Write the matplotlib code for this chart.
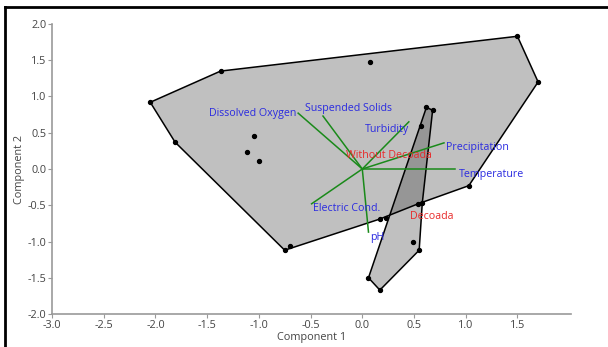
import numpy as np
import matplotlib.pyplot as plt
from matplotlib.lines import Line2D

plt.rcParams['font.family'] = ['Open Sans', 'DejaVu Sans']

# group "Without Decoada" - all scores, and hull vertices in drawing order
wd_x = [-2.05, -1.81, -1.37, 0.07, 1.50, 1.70, 1.03, 0.54, 0.17, -0.70, -0.75, -1.05, -1.11, -1.00]
wd_y = [0.92, 0.37, 1.35, 1.48, 1.83, 1.20, -0.23, -0.48, -0.69, -1.06, -1.12, 0.45, 0.24, 0.11]
wd_hull = [0, 2, 4, 5, 6, 7, 8, 10, 1]

# group "Decoada"
de_x = [0.62, 0.68, 0.57, 0.58, 0.23, 0.49, 0.55, 0.17, 0.06]
de_y = [0.85, 0.81, 0.59, -0.47, -0.68, -1.01, -1.12, -1.67, -1.50]
de_hull = [0, 1, 3, 6, 7, 8]

# loadings (biplot vectors)
var_names = ['Dissolved Oxygen', 'Suspended Solids', 'Turbidity', 'Precipitation',
             'Temperature', 'Electric Cond.', 'pH']
load_x = [-0.62, -0.38, 0.45, 0.79, 0.90, -0.49, 0.06]
load_y = [0.77, 0.73, 0.65, 0.36, 0.00, -0.48, -0.87]
label_x = [-0.64, -0.13, 0.24, 0.81, 0.93, -0.15, 0.08]
label_y = [0.77, 0.84, 0.54, 0.29, -0.08, -0.55, -0.95]
label_ha = ['right', 'center', 'center', 'left', 'left', 'center', 'left']

groups = ['Without Decoada', 'Decoada']
group_lx = [0.26, 0.67]
group_ly = [0.19, -0.65]

fig = plt.figure(figsize=(6.08, 3.47), dpi=100)
ax = fig.add_axes([0.0855, 0.095, 0.854, 0.836])

for xs, ys, hull in [(wd_x, wd_y, wd_hull), (de_x, de_y, de_hull)]:
    px = [xs[i] for i in hull]
    py = [ys[i] for i in hull]
    ax.fill(px, py, facecolor=(0.26, 0.26, 0.26), alpha=0.33, edgecolor='none', zorder=1)
    ax.plot(px + [px[0]], py + [py[0]], color='black', lw=1.1, zorder=2)
    ax.scatter(xs, ys, s=8, color='black', zorder=3)

for lx, ly in zip(load_x, load_y):
    ax.plot([0, lx], [0, ly], color='#1a8a1a', lw=1.1, zorder=4)

for name, tx, ty, ha in zip(var_names, label_x, label_y, label_ha):
    ax.text(tx, ty, name, color='#2a2ae0', fontsize=7.7, ha=ha, va='center', zorder=5)

for name, tx, ty in zip(groups, group_lx, group_ly):
    ax.text(tx, ty, name, color='#e82a2a', fontsize=7.7, ha='center', va='center', zorder=5)

ax.set_xlim(-3.0, 2.02)
ax.set_ylim(-2.0, 2.0)
ax.set_xticks(np.arange(-3.0, 1.6, 0.5))
ax.set_yticks(np.arange(-2.0, 2.1, 0.5))
ax.set_xticklabels([f'{v:.1f}' for v in np.arange(-3.0, 1.6, 0.5)])
ax.set_yticklabels([f'{v:.1f}' for v in np.arange(-2.0, 2.1, 0.5)])
for s in ['top', 'right']:
    ax.spines[s].set_visible(False)
for s in ['left', 'bottom']:
    ax.spines[s].set_color('#999999')
    ax.spines[s].set_linewidth(1.2)
ax.tick_params(colors='#999999', labelcolor='#444444', labelsize=7.8, length=3, pad=1)
ax.set_xlabel('Component 1', fontsize=7.8, color='#444444', labelpad=1)
ax.set_ylabel('Component 2', fontsize=7.8, color='#444444', labelpad=2)

# black frame on the left and top
fig.add_artist(Line2D([0.009, 0.009], [0, 0.98], transform=fig.transFigure, color='black', lw=2))
fig.add_artist(Line2D([0.009, 1.0], [0.98, 0.98], transform=fig.transFigure, color='black', lw=2))

fig.savefig('out.png', dpi=100)
